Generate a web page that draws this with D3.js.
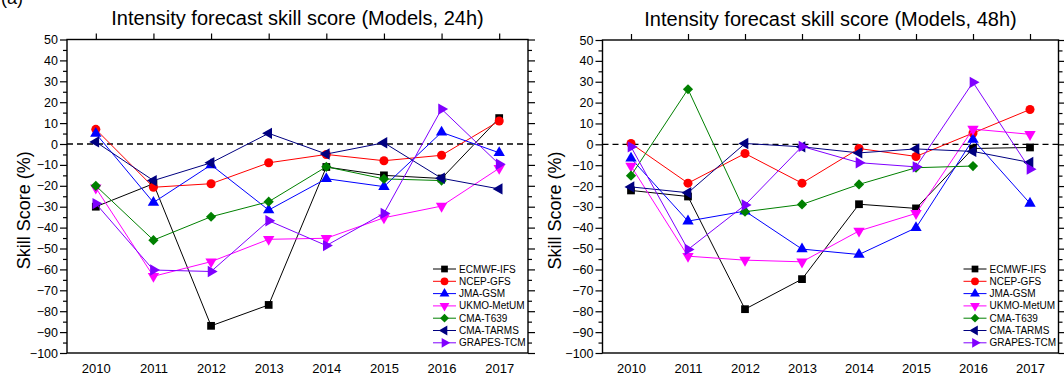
<!DOCTYPE html>
<html>
<head>
<meta charset="utf-8">
<script src="https://cdn.jsdelivr.net/npm/d3@7"></script>
<style>
  body { margin: 0; background: #fff; }
  svg { display: block; }
</style>
</head>
<body>
<script>
// years on the x axis
const years = [2010, 2011, 2012, 2013, 2014, 2015, 2016, 2017];
const models = ["ECMWF-IFS", "NCEP-GFS", "JMA-GSM", "UKMO-MetUM", "CMA-T639", "CMA-TARMS", "GRAPES-TCM"];
const yTicks = [50, 40, 30, 20, 10, 0, -10, -20, -30, -40, -50, -60, -70, -80, -90, -100];

// skill scores (%), 24h
const ecmwf24 = [-30, -19, -87, -77, -11, -15, -16.5, 12.4];
const ncep24  = [7, -20.7, -19, -9, -5, -8, -5.4, 11];
const jma24   = [5, -28, -10, -31.6, -16.6, -20.4, 5.6, -4.2];
const ukmo24  = [-21, -63.3, -56.3, -45.6, -45.1, -35.3, -29.7, -11.6];
const t639_24 = [-20, -46, -34.8, -27.6, -10.9, -16.7, -17.5, null];
const tarms24 = [1, -17.5, -9, 5.1, -4.8, 0.6, -16.4, -21.5];
const grapes24 = [-28.5, -60.3, -61, -36.7, -48.6, -33.2, 16.7, -9.7];

// skill scores (%), 48h
const ecmwf48 = [-22.1, -25, -79, -64.6, -28.7, -30.7, -2, -1.5];
const ncep48  = [0.4, -18.6, -4.4, -18.6, -2, -5.8, 5.4, 16.7];
const jma48   = [-6.7, -36.8, -32, -50.2, -52.8, -40, 2.3, -28.3];
const ukmo48  = [-10.4, -53.6, -55.5, -56.3, -41.5, -33.1, 7.3, 4.8];
const t639_48 = [-15, 26.4, -32.3, -28.8, -19.2, -11.2, -10.4, null];
const tarms48 = [-20.4, -23.2, 0.4, -1.2, -4.1, -2.2, -3.4, -8.7];
const grapes48 = [-1.2, -50.4, -29.1, -1, -8.8, -10.8, 29.7, -11.9];

// styles per model
const colors = ["#000000", "#ff0000", "#0000ff", "#ff00ff", "#008000", "#000080", "#8000ff"];
const shapes = [
  {type: d3.symbolSquare, rot: 0, size: 60},
  {type: d3.symbolCircle, rot: 0, size: 64},
  {type: d3.symbolTriangle, rot: 0, size: 56},
  {type: d3.symbolTriangle, rot: 180, size: 56},
  {type: d3.symbolSquare, rot: 45, size: 52},
  {type: d3.symbolTriangle, rot: -90, size: 56},
  {type: d3.symbolTriangle, rot: 90, size: 56}
];

const svg = d3.select("body").append("svg")
  .attr("width", 1064)
  .attr("height", 378)
  .style("font-family", "'Liberation Sans', Arial, sans-serif");

// panel letter, cut at the top edge like the source figure
svg.append("text").attr("x", 1).attr("y", 4).style("font-size", "18px").text("(a)");

function drawPanel(p) {
  const g = svg.append("g");
  const x = d3.scaleLinear().domain([2009.5, 2017.5]).range([p.left, p.right]);
  const y = d3.scaleLinear().domain([-100, 50]).range([p.bottom, p.top]);

  // left axis with labels + minor ticks
  g.append("g").attr("transform", "translate(" + p.left + ",0)")
    .call(d3.axisLeft(y).tickValues(yTicks).tickSize(7).tickPadding(2))
    .call(a => a.select(".domain").remove())
    .call(a => a.selectAll("text").style("font-size", "12.5px").attr("fill", "#000"));
  g.append("g").attr("transform", "translate(" + p.left + ",0)")
    .call(d3.axisLeft(y).tickValues(d3.range(-95, 50, 10)).tickSize(4).tickFormat(""))
    .call(a => a.select(".domain").remove());

  // right axis, ticks only
  g.append("g").attr("transform", "translate(" + p.right + ",0)")
    .call(d3.axisRight(y).tickValues(yTicks).tickSize(7).tickFormat(""))
    .call(a => a.select(".domain").remove());
  g.append("g").attr("transform", "translate(" + p.right + ",0)")
    .call(d3.axisRight(y).tickValues(d3.range(-95, 50, 10)).tickSize(4).tickFormat(""))
    .call(a => a.select(".domain").remove());

  // top ticks
  g.append("g").attr("transform", "translate(0," + p.top + ")")
    .call(d3.axisTop(x).tickValues(years).tickSize(6).tickFormat(""))
    .call(a => a.select(".domain").remove());

  // bottom labels
  g.append("g").attr("transform", "translate(0," + p.bottom + ")")
    .call(d3.axisBottom(x).tickValues(years).tickSize(0).tickPadding(11).tickFormat(d3.format("d")))
    .call(a => a.select(".domain").remove())
    .call(a => a.selectAll("text").style("font-size", "13px").attr("fill", "#000"));

  g.selectAll(".tick line").attr("stroke", "#000").attr("stroke-width", 1.2);

  // frame
  g.append("rect")
    .attr("x", p.left).attr("y", p.top)
    .attr("width", p.right - p.left).attr("height", p.bottom - p.top)
    .attr("fill", "none").attr("stroke", "#000").attr("stroke-width", 1.4);

  // zero line
  g.append("line")
    .attr("x1", p.left).attr("x2", p.right)
    .attr("y1", y(0)).attr("y2", y(0))
    .attr("stroke", "#000").attr("stroke-width", 1.4)
    .attr("stroke-dasharray", "6,4");

  // title + y label
  g.append("text")
    .attr("x", (p.left + p.right) / 2).attr("y", p.titleY)
    .attr("text-anchor", "middle")
    .style("font-size", "20px")
    .text(p.title);
  g.append("text")
    .attr("transform", "translate(" + p.ylabX + "," + ((p.top + p.bottom) / 2 + 14) + ") rotate(-90)")
    .attr("text-anchor", "middle")
    .style("font-size", "18px")
    .text("Skill Score (%)");

  const line = d3.line()
    .defined(d => d != null)
    .x((d, i) => x(years[i]))
    .y(d => y(d));

  p.series.forEach((s, k) => {
    g.append("path")
      .attr("d", line(s))
      .attr("fill", "none")
      .attr("stroke", colors[k])
      .attr("stroke-width", 1);
    g.selectAll(null)
      .data(s.map((v, i) => ({v: v, yr: years[i]})).filter(d => d.v != null))
      .enter().append("path")
      .attr("d", d3.symbol().type(shapes[k].type).size(shapes[k].size))
      .attr("transform", d => "translate(" + x(d.yr) + "," + y(d.v) + ") rotate(" + shapes[k].rot + ")")
      .attr("fill", colors[k]);
  });

  // legend (no box)
  const lg = g.append("g").attr("transform", "translate(" + (p.right - 95) + "," + (p.bottom - 84) + ")");
  models.forEach((m, k) => {
    const row = lg.append("g").attr("transform", "translate(0," + (k * 12.3) + ")");
    row.append("line").attr("x1", 0).attr("x2", 23).attr("y1", 0).attr("y2", 0)
      .attr("stroke", colors[k]).attr("stroke-width", 1);
    row.append("path")
      .attr("d", d3.symbol().type(shapes[k].type).size(shapes[k].size * 0.75))
      .attr("transform", "translate(11.5,0) rotate(" + shapes[k].rot + ")")
      .attr("fill", colors[k]);
    row.append("text").attr("x", 26).attr("y", 0).attr("dy", "0.35em")
      .style("font-size", "10px")
      .text(m);
  });
}

drawPanel({
  left: 67, right: 528, top: 39.5, bottom: 353,
  title: "Intensity forecast skill score (Models, 24h)", titleY: 25, ylabX: 30,
  series: [ecmwf24, ncep24, jma24, ukmo24, t639_24, tarms24, grapes24]
});
drawPanel({
  left: 602.5, right: 1058.5, top: 40, bottom: 353,
  title: "Intensity forecast skill score (Models, 48h)", titleY: 26, ylabX: 561,
  series: [ecmwf48, ncep48, jma48, ukmo48, t639_48, tarms48, grapes48]
});
</script>
</body>
</html>
